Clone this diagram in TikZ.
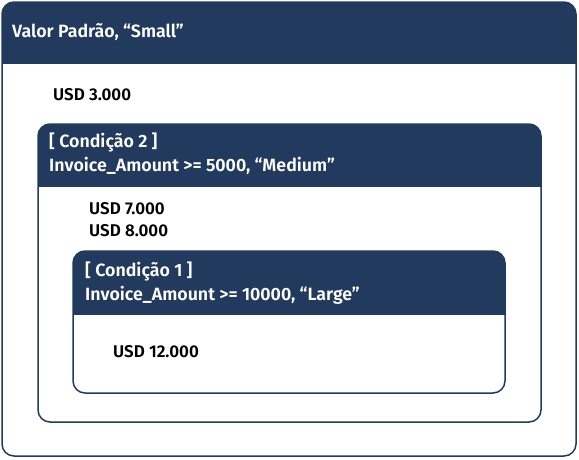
\documentclass[tikz,border=0pt]{standalone}
\usepackage{fontspec}
\setmainfont{Fira Sans}[UprightFont={* SemiBold}]
\definecolor{navy}{HTML}{223A5E}
\begin{document}
\begin{tikzpicture}[x=1pt,y=-1pt,
  frame/.style={draw=navy,line width=1.5pt,rounded corners=12pt},
  hdr/.style={text=white,anchor=west,font=\fontsize{17.8}{20}\selectfont,inner sep=0pt},
  val/.style={text=black,anchor=west,font=\fontsize{17}{20}\selectfont,inner sep=0pt}]
\useasboundingbox (0,0) rectangle (579,459);
% outer
\begin{scope}
\clip[rounded corners=12pt] (2,2) rectangle (576,456);
\fill[navy] (2,2) rectangle (576,64);
\end{scope}
\draw[frame] (2,2) rectangle (576,456);
% box 2
\begin{scope}
\clip[rounded corners=12pt] (38,124) rectangle (541,422);
\fill[navy] (38,124) rectangle (541,187);
\end{scope}
\draw[frame] (38,124) rectangle (541,422);
% box 3
\begin{scope}
\clip[rounded corners=12pt] (73,251) rectangle (505,393);
\fill[navy] (73,251) rectangle (505,315);
\end{scope}
\draw[frame] (73,251) rectangle (505,393);
% texts
\node[hdr] (t0) at (12,32) {Valor Padrão, “Small”};
\node[val] (v0) at (53,95) {USD 3.000};
\node[hdr] (t2a) at (49,142) {[ Condição 2 ]};
\node[hdr] (t2b) at (49,166) {Invoice\_Amount >= 5000, “Medium”};
\node[val] (v2a) at (89,209) {USD 7.000};
\node[val] (v2b) at (89,231) {USD 8.000};
\node[hdr] (t1a) at (85,271) {[ Condição 1 ]};
\node[hdr] (t1b) at (85,295) {Invoice\_Amount >= 10000, “Large”};
\node[val] (v1) at (113,352) {USD 12.000};
\end{tikzpicture}
\end{document}
